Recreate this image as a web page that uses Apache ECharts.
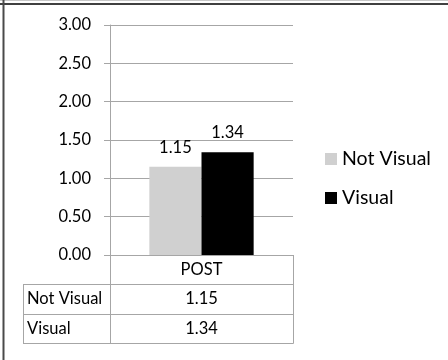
<!DOCTYPE html>
<html>
<head>
<meta charset="utf-8">
<script src="https://cdn.jsdelivr.net/npm/echarts@6/dist/echarts.min.js"></script>
<style>
  html, body { margin: 0; padding: 0; background: #fff; }
  #chart { width: 448px; height: 360px; }
</style>
</head>
<body>
<div id="chart"></div>
<script>
// Chart data
const categories = ['POST'];
const seriesNames = ['Not Visual', 'Visual'];
const notVisual = [1.15];
const visual = [1.34];
const yTicks = { min: 0, max: 3, step: 0.5 };

const FONT = 'Lato, "Open Sans", sans-serif';
const FS = 16.5;
const GRID = { left: 110, top: 25, width: 183, height: 230 };
const ROW_H = 29.3;
const TABLE_LEFT = 23;
const LINE = '#a6a6a6';

const chart = echarts.init(document.getElementById('chart'), null, { renderer: 'canvas' });

const gRight = GRID.left + GRID.width;
const gBottom = GRID.top + GRID.height;

// Data table below the plot: header row + one row per series
const tableRows = [
  { name: seriesNames[0], values: notVisual },
  { name: seriesNames[1], values: visual }
];
const tableGraphics = [];
const hline = (x1, x2, y) => ({ type: 'line', shape: { x1, y1: y, x2, y2: y }, style: { stroke: LINE, lineWidth: 1 }, silent: true });
const vline = (x, y1, y2) => ({ type: 'line', shape: { x1: x, y1, x2: x, y2 }, style: { stroke: LINE, lineWidth: 1 }, silent: true });
const tableBottom = Math.round(gBottom + ROW_H * (tableRows.length + 1)) + 0.5;
tableGraphics.push(vline(GRID.left + 0.5, gBottom, tableBottom));
tableGraphics.push(vline(gRight + 0.5, gBottom, tableBottom));
tableGraphics.push(vline(TABLE_LEFT + 0.5, Math.round(gBottom + ROW_H) + 0.5, tableBottom));
for (let r = 1; r <= tableRows.length + 1; r++) {
  const y = Math.round(gBottom + ROW_H * r) + 0.5;
  tableGraphics.push(hline(TABLE_LEFT, gRight + 0.5, y));
}
tableRows.forEach((row, i) => {
  const cy = gBottom + ROW_H * (i + 1.5);
  tableGraphics.push({
    type: 'text', x: TABLE_LEFT + 4, y: cy, silent: true,
    style: { text: row.name, font: FS + 'px ' + FONT, fill: '#000', verticalAlign: 'middle' }
  });
  row.values.forEach((v, j) => {
    tableGraphics.push({
      type: 'text', x: GRID.left + GRID.width * (j + 0.5) / categories.length, y: cy, silent: true,
      style: { text: v.toFixed(2), font: FS + 'px ' + FONT, fill: '#000', align: 'center', verticalAlign: 'middle' }
    });
  });
});

// Outer frame (left and top edges)
const frame = [
  { type: 'line', shape: { x1: 0, y1: 0.5, x2: 448, y2: 0.5 }, style: { stroke: '#c8c8c8', lineWidth: 1 }, silent: true },
  { type: 'line', shape: { x1: 0, y1: 4, x2: 448, y2: 4 }, style: { stroke: '#000', lineWidth: 1.5 }, silent: true },
  { type: 'line', shape: { x1: 3.5, y1: 0, x2: 3.5, y2: 360 }, style: { stroke: '#4a4a4a', lineWidth: 2 }, silent: true }
];

chart.setOption({
  animation: false,
  backgroundColor: '#fff',
  textStyle: { fontFamily: FONT },
  grid: GRID,
  legend: {
    orient: 'vertical',
    left: 325,
    top: 149,
    padding: 0,
    icon: 'rect',
    itemWidth: 12,
    itemHeight: 12,
    itemGap: 19,
    data: seriesNames,
    textStyle: { fontSize: 19.5, lineHeight: 20, color: '#000', fontFamily: FONT }
  },
  xAxis: {
    type: 'category',
    data: categories,
    axisLine: { show: true, lineStyle: { color: LINE } },
    axisTick: { show: false },
    axisLabel: { color: '#000', fontSize: FS, margin: 6, fontFamily: FONT }
  },
  yAxis: {
    type: 'value',
    min: yTicks.min,
    max: yTicks.max,
    interval: yTicks.step,
    axisLine: { show: true, lineStyle: { color: LINE } },
    axisTick: { show: true, length: 6, lineStyle: { color: LINE } },
    splitLine: { show: true, lineStyle: { color: LINE } },
    axisLabel: { color: '#000', fontSize: FS, margin: 19, fontFamily: FONT, formatter: v => v.toFixed(2) }
  },
  series: [
    {
      name: seriesNames[0], type: 'bar', data: notVisual,
      barGap: '0%', barCategoryGap: '43%',
      itemStyle: { color: '#d0d0d0' },
      label: { show: true, position: 'top', distance: 11, color: '#000', fontSize: FS, fontFamily: FONT, formatter: p => p.value.toFixed(2) }
    },
    {
      name: seriesNames[1], type: 'bar', data: visual,
      itemStyle: { color: '#000' },
      label: { show: true, position: 'top', distance: 11, color: '#000', fontSize: FS, fontFamily: FONT, formatter: p => p.value.toFixed(2) }
    }
  ],
  graphic: frame.concat(tableGraphics)
});
</script>
</body>
</html>
